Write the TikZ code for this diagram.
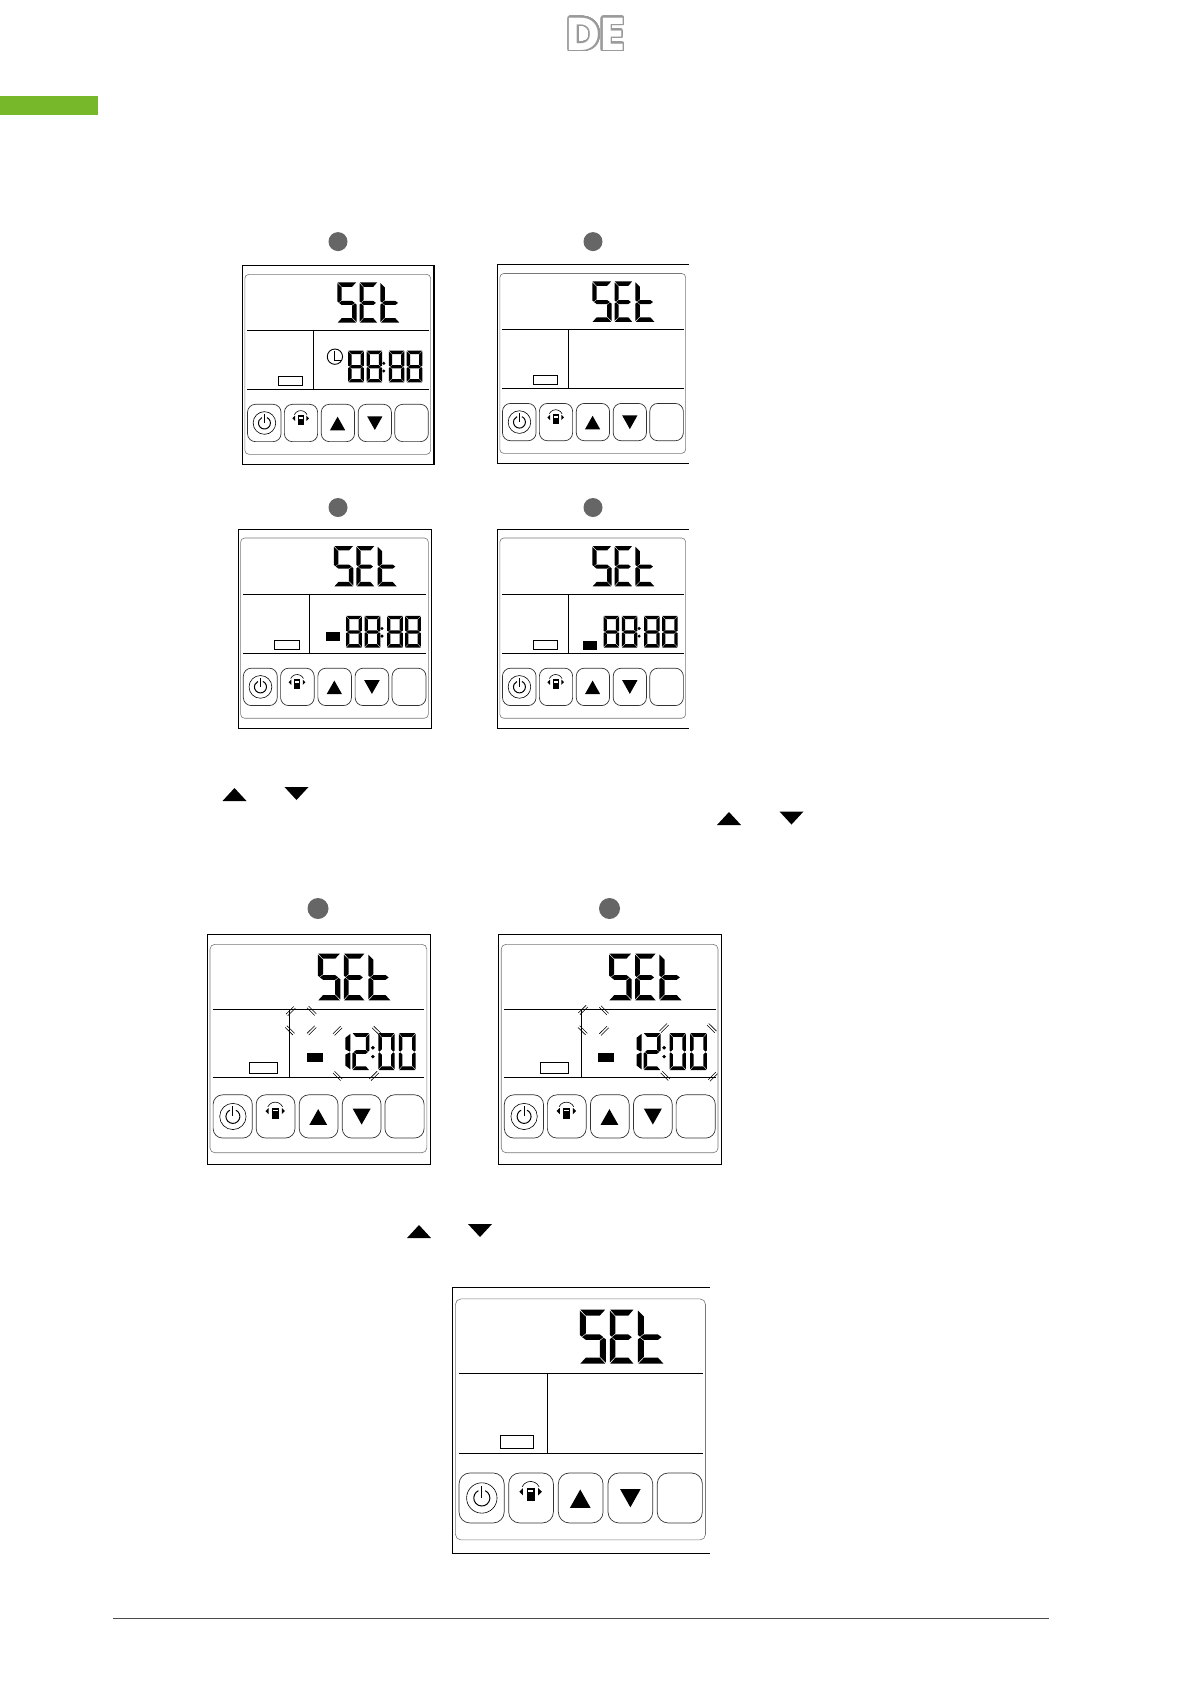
\documentclass[tikz,border=0pt]{standalone}
\usepackage{fontspec}
\usepackage{xcolor}
\usepackage[copies]{contour}
\newfontfamily\langfont{Poppins}[Scale=1]
\definecolor{leaf}{HTML}{76B82A}
\definecolor{dotgray}{HTML}{666666}
\definecolor{tagray}{HTML}{9A9A9A}
\definecolor{rimgray}{HTML}{777777}
\usepackage{tikz}
\usetikzlibrary{calc}
\contourlength{1.6pt}
\contournumber{48}

\tikzset{
  lcdframe/.style={line width=1.1pt, color=black},
  lcdrule/.style={line width=1.0pt, color=black},
  lcdrim/.style={line width=0.6pt, color=rimgray},
  lcdkey/.style={line width=0.7pt, color=black!80},
  lcdfit/.style n args={4}{shift={(#1,#2)}, xscale=#3/576, yscale=#4/596},
  stepdot/.style={fill=dotgray},
}

% seven segments on a 100 by 100 box
\def\lcdtx{20}
\def\lcdty{10}
\def\lcdsega{\fill (2,0) -- (98,0) -- (100-\lcdtx,\lcdty) -- (\lcdtx,\lcdty) -- cycle;}
\def\lcdsegf{\fill (0,2) -- (\lcdtx,\lcdty+2) -- (\lcdtx,44) -- (8,50) -- (0,47) -- cycle;}
\def\lcdsegb{\fill (100,2) -- (100-\lcdtx,\lcdty+2) -- (100-\lcdtx,44) -- (92,50) -- (100,47) -- cycle;}
\def\lcdsegg{\fill (9,51) -- (\lcdtx,46) -- (100-\lcdtx,46) -- (91,51) -- (100-\lcdtx,56) -- (\lcdtx,56) -- cycle;}
\def\lcdsege{\fill (0,55) -- (8,52) -- (\lcdtx,58) -- (\lcdtx,98-\lcdty) -- (0,98) -- cycle;}
\def\lcdsegc{\fill (100,55) -- (92,52) -- (100-\lcdtx,58) -- (100-\lcdtx,98-\lcdty) -- (100,98) -- cycle;}
\def\lcdsegd{\fill (2,100) -- (\lcdtx,100-\lcdty) -- (100-\lcdtx,100-\lcdty) -- (98,100) -- cycle;}
\newcommand{\lcddigit}[5]{%
  \begin{scope}[shift={(#1,#2)}, xscale=#3/100, yscale=#4/100]
    \foreach \s in {#5} {\csname lcdseg\s\endcsname}
  \end{scope}}

% the parts every keypad shares; #1 = corner radius of the keys
\newcommand{\lcdbase}[1]{%
  \draw[lcdrim, rounded corners=#1*0.5pt] (7,26) rectangle (566,566);
  \draw[lcdrule] (14,194) -- (560,194);
  \draw[lcdrule] (14,372) -- (560,372);
  \draw[lcdrule] (213,194) -- (213,372);
  \draw[line width=0.7pt] (108,332) rectangle (181,360);
  % SEt
  \def\lcdtx{23}\def\lcdty{11}
  \lcddigit{285}{50}{58}{121}{a,f,g,c,d}
  \lcddigit{352}{50}{54}{121}{a,f,g,e,d}
  \lcddigit{415}{50}{58}{121}{f,g,e,d}
  % keys
  \foreach \ka/\kb in {15/116, 126/226, 237/337, 348/448, 458/559}
    \draw[lcdkey, rounded corners=#1pt] (\ka,416) rectangle (\kb,528);
  \draw[line width=0.6pt] (66,472) circle (34);
  \draw[line width=1.0pt] (73.6,455.7) arc (-65:245:18);
  \draw[line width=1.0pt] (66,445) -- (66,472);
  \fill (263,494) -- (286,453) -- (309,494) -- cycle;
  \fill (375,452) -- (421,452) -- (398,493) -- cycle;
  % cup with its turn arrows
  \draw[line width=0.6pt] (156,447) arc (-155:-25:21);
  \fill (150,458) -- (158,450) -- (158,466) -- cycle;
  \fill (200,458) -- (192,450) -- (192,466) -- cycle;
  \fill (166,449) -- (184,449) -- (184,479) -- (166,479) -- cycle;
  \fill[white] (169,454) rectangle (181,459);
  \def\lcdtx{21}\def\lcdty{10.5}
}
\newcommand{\lcdclosed}{\draw[lcdframe] (0,0) rectangle (576,596);}
\newcommand{\lcdopen}{\draw[lcdframe] (576,0) -- (0,0) -- (0,596) -- (576,596);}
\newcommand{\lcdcolon}[2]{%
  \fill (#1,#2+38) circle (5);
  \fill (#1,#2+61) circle (5);}
\newcommand{\lcdeights}[2]{%
  \foreach \dx in {0,55,122,176} {
    \lcddigit{#1+\dx}{#2}{47}{95}{a,b,c,d,e,f,g}
  }
  \lcdcolon{#1+107}{#2}}
\newcommand{\lcdnoon}{%
  {\def\lcdtx{72}\lcddigit{351}{256}{18}{96}{b,c}}
  \lcddigit{374}{256}{44}{96}{a,b,g,e,d}
  \lcddigit{441}{256}{42}{96}{a,b,c,d,e,f}
  \lcddigit{494}{256}{43}{96}{a,b,c,d,e,f}
  \lcdcolon{427}{256}
  \fill (257,307) rectangle (298,331);}
\newcommand{\lcdblink}[3]{%
  \begin{scope}[shift={(#1,#2)}, rotate=#3]
    \draw[line width=0.55pt] (-14,-3) -- (14,-3);
    \draw[line width=0.55pt] (-14,3) -- (14,3);
  \end{scope}}
\newcommand{\lcdup}[2]{\fill (#1-12,#2+6.5) -- (#1,#2-6.5) -- (#1+12,#2+6.5) -- cycle;}
\newcommand{\lcddown}[2]{\fill (#1-12,#2-6.5) -- (#1,#2+6.5) -- (#1+12,#2-6.5) -- cycle;}

\begin{document}
\begin{tikzpicture}[x=1pt, y=-1pt]
  \useasboundingbox (0,0) rectangle (1191,1684);

  % Page furniture
  \node[font=\langfont\bfseries\fontsize{46}{46}\selectfont, inner sep=0pt] (langtag) at (596,35)
    {\contour{tagray}{\textcolor{white}{DE}}};
  \fill[leaf] (0,96) rectangle (98,115);
  \draw[line width=1pt, color=black!70] (113,1618.5) -- (1049,1618.5);

  % Step markers
  \foreach \px/\py in {338/241.6, 593/241.6, 338/507.5, 593/507.5}
    \fill[stepdot] (\px,\py) circle (9.5);
  \foreach \px in {318, 609.5}
    \fill[stepdot] (\px,908.5) circle (10.5);

  % Top row
  \begin{scope}[lcdfit={242.5}{265.7}{191.5}{198.6}]
    \lcdclosed \lcdbase{8}
    \draw[line width=0.9pt] (278,273) circle (23);
    \draw[line width=0.9pt] (278,255) -- (278,284) -- (299,284);
    \lcdeights{318}{255}
  \end{scope}
  \begin{scope}[lcdfit={497.5}{264.8}{191.5}{198.6}]
    \lcdopen \lcdbase{8}
  \end{scope}

  % Second row
  \begin{scope}[lcdfit={238.3}{529.3}{193.4}{199}]
    \lcdclosed \lcdbase{8}
    \fill (260,309) rectangle (302,334);
    \lcdeights{321}{259}
  \end{scope}
  \begin{scope}[lcdfit={497.5}{529.3}{191.5}{199}]
    \lcdopen \lcdbase{8}
    \fill (256,334) rectangle (299,361);
    \lcdeights{319}{259}
  \end{scope}

  % Arrow symbols of the text
  \lcdup{234.5}{794.5} \lcddown{296.5}{793.5}
  \lcdup{729}{818.5} \lcddown{791.5}{818}

  % Third row, hours then minutes blinking
  \begin{scope}[lcdfit={207.3}{934.3}{223.4}{230}]
    \lcdclosed \lcdbase{9.5}
    \lcdnoon
    \foreach \bx/\by/\ba in {215/199/45, 269/198/-45, 213/249/-45, 269/249/45, 336/250/45, 437/250/-45, 336/367/-45, 430/367/45} {
      \lcdblink{\bx}{\by}{\ba}
    }
  \end{scope}
  \begin{scope}[lcdfit={498.5}{934.3}{223.4}{230}]
    \lcdclosed \lcdbase{9.5}
    \lcdnoon
    \foreach \bx/\by/\ba in {218/196/45, 272/197/-45, 217/249/-45, 272/250/45, 427/243/45, 550/243/-45, 430/367/-45, 553/369/45} {
      \lcdblink{\bx}{\by}{\ba}
    }
  \end{scope}

  \lcdup{419}{1231.5} \lcddown{480}{1230.5}

  % Last keypad
  \begin{scope}[lcdfit={452.3}{1287.3}{257.7}{266}]
    \lcdopen \lcdbase{11}
  \end{scope}
\end{tikzpicture}
\end{document}
